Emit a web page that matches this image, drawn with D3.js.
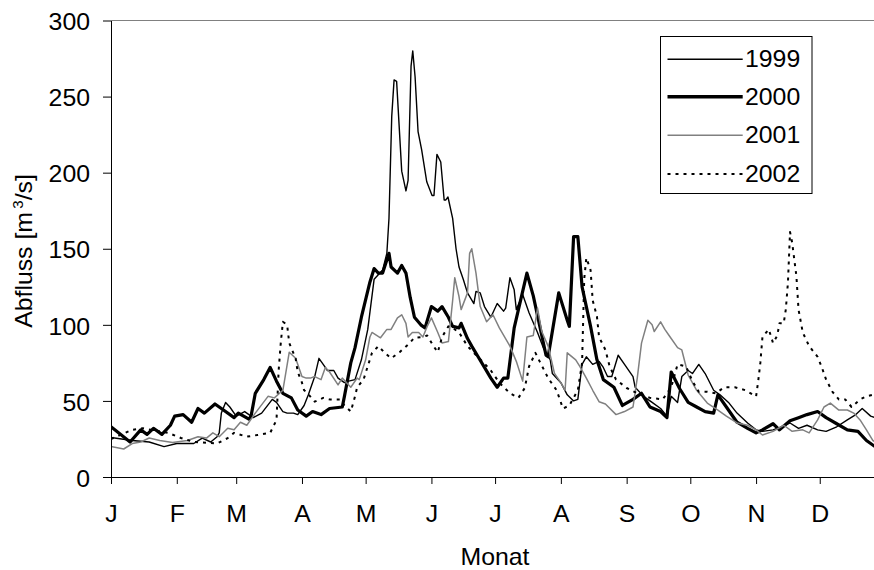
<!DOCTYPE html>
<html><head><meta charset="utf-8">
<script src="https://cdn.jsdelivr.net/npm/d3@7"></script>
<style>
body{margin:0;background:#fff}
text{font-family:"Liberation Sans",Arial,sans-serif;fill:#000}
</style>
</head><body>
<svg id="c" width="874" height="570"></svg>
<script>
const monthStarts = [0,31,59,90,120,151,181,212,243,273,304,334];
const monthLabels = ["J","F","M","A","M","J","J","A","S","O","N","D"];
const yTicks = [0,50,100,150,200,250,300];
const years = ["1999","2000","2001","2002"];

const s1999 = [[0,26],[10,24],[18,23],[25,20],[31,22],[39,22],[43,25.6],[47,23],[50,26.5],[51,29],[52,42],[54,49],[56,46],[59,40],[63,43],[67,39],[71,42],[76,51],[78,49],[81,43],[83,42],[86,42],[88,41],[91,47],[93,54],[96,66],[98,78],[100,74],[102,70],[105,70],[107,65],[110,62],[112,63],[115,64],[118,77],[121,97],[124,130],[128,136],[130,147],[131,170],[132.3,237],[133.4,261],[134.6,260],[137,201],[139,188],[140,195],[141.4,270],[142.2,280],[143.3,263],[144.7,227],[146.4,215],[148.8,194],[151.3,185],[152.2,185],[153.6,212],[155.4,207],[157,182],[157.7,182],[158.8,184],[161,170],[162.6,150],[164,138],[166,130],[168,121],[171,114],[172,122],[174,121],[176,112],[179,105],[182,114],[185,109],[186,111],[188,131],[190,123],[191,110],[194,120],[197,108],[201,95],[204,84],[207,77],[208,68],[212,62],[215,54],[218,50],[220,51],[222,74],[224,79],[227,74],[230,76],[232,72],[234,66],[236,66],[239,80],[242,74],[246,66],[247,59],[251,53],[255,49],[259,45],[262,40],[264,53],[267,49],[269,66],[272,70],[274,68],[277,74],[280,68],[284,57],[287,54],[291,49],[295,42],[300,35.5],[304,31],[307,30],[312,31],[316,33],[320,35.5],[324,32],[328,34],[333,31],[337,30],[342,33],[347,37.5],[351,41],[354,45],[358,40],[362,38]];

const s2000 = [[0,33],[9,23],[14,31],[17,28],[20,32],[24,28],[28,34],[30,40],[34,41],[38,36],[41,45],[44,42],[49,48],[53,44],[58,39],[60,42],[65,38],[66,40],[68,55],[72,64],[75,72],[78,63],[81,55],[85,52],[88,44],[92,40],[95,43],[99,41],[103,45],[109,46],[110,53],[113,75],[115,85],[118,105],[122,128],[124,137],[126,134],[128,134],[131,147],[132,138],[135,134],[137,139],[139,134],[141,118],[143,105],[146,100],[148,98],[151,112],[154,109],[156,112],[159,105],[161,99],[164,98],[165,101],[168,91],[170,86],[173,79],[176,72],[179,65],[182,59],[185,65],[187,65],[190,98],[196,134],[199,119],[205,80],[206,79],[211,121],[215,103],[216,99],[218,158],[220,158],[222,125],[226,99],[229,77],[232,64],[237,59],[241,47],[246,51],[250,55],[254,46],[259,43],[262,39],[264,69],[268,58],[272,49],[276,46],[280,43],[284,42],[286,54],[290,46],[295,36],[300,32],[304,29],[307,31],[312,35],[315,31],[320,37],[324,39],[328,41],[333,43],[337,39],[342,35],[347,31],[352,30],[356,24],[360,20],[362,19]];

const s2001 = [[0,20],[6,18.4],[10,22],[14,23],[18,25.6],[23,24],[29,22.6],[36,24],[41,26.5],[45,25.6],[48,29],[51,26.5],[55,32],[58,31],[61,36],[64,34],[68,42],[74,53],[77,52],[81,57],[84,82],[87,78],[90,66],[92,65],[94,65],[96,66],[99,64],[101,72],[103,69],[107,60.5],[109,65],[113,59],[116,65],[117,64],[120,77],[122,92],[123,95],[127,91.5],[130,97],[132,97],[135,104.6],[137,106.6],[139,101],[140,92],[142,95],[145,95],[147,92],[149,99],[151,104.6],[154,95],[156,88],[159,89],[161,116],[162,131],[164,118.6],[165,110],[168,121],[169,147],[170,150],[172,134],[174,112],[177,102],[180,106.6],[183,98],[188,86],[191,76],[194,63],[196,92],[199,93],[201,111],[203,95.6],[206,86],[209,68],[212,62],[214,57],[215,81.6],[219,77],[221,72.6],[224,65],[227,57],[230,49.5],[233,48],[238,41],[242,43],[246,46],[248,65],[250,88],[253,103],[255,100],[256,95.6],[259,102],[261,97],[263,93],[267,85],[269,83.5],[272,67],[276,57],[281,48.6],[286,44],[290,40],[295,35.5],[300,34],[304,31],[307,27.6],[312,30],[317,34],[321,30],[326,31],[329,29],[333,37.5],[336,46],[339,48.6],[343,44],[347,44],[350,42],[353,37.5],[356,31],[359,24],[362,22]];

const s2002 = [[0,25],[10,31],[15,32],[27,29],[33,25.6],[39,23],[50,22],[55,25.6],[58,29],[64,26.5],[69,27.6],[75,29],[78,37.5],[79,70],[80,88],[81,102],[83,100],[84,88],[87,78],[88,69],[90,62],[91,57],[92,56],[96,49.5],[100,52],[103,51],[108,51],[110,47],[113,43],[115,53],[116,59],[119,64],[123,81.6],[126,86],[129,81.6],[132,78],[136,82],[140,87],[143,91.5],[147,92],[149,93],[152,86],[154,82],[156,92],[159,99],[161,98],[164,95],[168,86],[171,81.6],[175,76],[179,70],[183,62],[188,55],[192,52],[195,58.5],[197,72.6],[200,81.6],[202,76],[206,65],[210,57],[213,45],[216,47],[220,57],[222,75],[223,130],[224,144],[226,136],[227,116],[229,105.5],[230,92],[233,83.5],[235,72.6],[238,64],[243,58.5],[248,55],[254,52],[260,51],[264,59],[267,74],[271,72.6],[274,63],[277,56],[281,56],[285,55],[289,59],[294,59],[299,57],[304,53],[305,63],[306,75],[307,92],[310,97],[312,88],[314,93],[315,101],[317,101],[318,110],[319,127.6],[320,161],[321,154],[323,132],[324,110],[326,95],[329,86],[333,79],[335,72],[337,64],[340,56],[343,51],[346,51],[349,46],[353,51],[356,53],[359,54],[362,55]];

const seriesData = [s1999, s2000, s2001, s2002];
const styles = [
  {stroke:"#000", width:1.4, dash:null},
  {stroke:"#000", width:3.2, dash:null},
  {stroke:"#808080", width:1.5, dash:null},
  {stroke:"#000", width:2, dash:"3,5"}
];

const FS = 23, SX = 1.08;
const svg = d3.select("#c");
const x = d3.scaleLinear().domain([0,365]).range([111, 111+365*2.122]);
const y = d3.scaleLinear().domain([0,300]).range([477, 20.5]);

svg.append("defs").append("clipPath").attr("id","pc")
  .append("rect").attr("x",111).attr("y",15).attr("width",763).attr("height",463);

// top border of plot area
svg.append("line").attr("x1",111).attr("x2",874).attr("y1",y(300)).attr("y2",y(300))
  .attr("stroke","#808080").attr("stroke-width",1);

// lines
const line = d3.line().x(d=>x(d[0])).y(d=>y(d[1]));
const lg = svg.append("g").attr("clip-path","url(#pc)");
seriesData.forEach((s,i)=>{
  lg.append("path").attr("d",line(s)).attr("fill","none")
    .attr("stroke",styles[i].stroke).attr("stroke-width",styles[i].width)
    .attr("stroke-linejoin","round")
    .attr("stroke-dasharray",styles[i].dash);
});

// y axis
const ya = svg.append("g").attr("transform","translate(111,0)")
  .call(d3.axisLeft(y).tickValues(yTicks).tickSize(8).tickSizeOuter(0).tickFormat(d3.format("d")));
ya.select(".domain").attr("stroke","#000");
ya.selectAll(".tick line").attr("stroke","#000");
ya.selectAll(".tick text").attr("font-size",FS).attr("font-family","Liberation Sans, Arial, sans-serif")
  .attr("x",-21/SX).attr("dy","0.4em").attr("transform",`scale(${SX},1)`).attr("fill","#000");

// x axis
const xa = svg.append("g").attr("transform","translate(0,477)")
  .call(d3.axisBottom(x).tickValues(monthStarts).tickSize(7).tickSizeOuter(0).tickFormat((d,i)=>monthLabels[i]));
xa.select(".domain").attr("stroke","#000");
xa.selectAll(".tick line").attr("stroke","#000");
xa.selectAll(".tick text").attr("font-size",FS).attr("font-family","Liberation Sans, Arial, sans-serif")
  .attr("y",45.5).attr("dy",0).attr("transform",`scale(${SX},1)`).attr("fill","#000");

// axis titles
svg.append("text").attr("transform",`translate(495,565) scale(${SX},1)`)
  .attr("text-anchor","middle").attr("font-size",FS).text("Monat");
const yt = svg.append("text").attr("transform",`translate(32,251) rotate(-90) scale(${SX},1)`)
  .attr("text-anchor","middle").attr("font-size",FS);
yt.append("tspan").text("Abfluss [m");
yt.append("tspan").attr("font-size",14).attr("dx",3).attr("dy",-9).text("3");
yt.append("tspan").attr("dy",9).text("/s]");

// legend
const leg = svg.append("g");
leg.append("rect").attr("x",660.5).attr("y",36.5).attr("width",151.5).attr("height",157)
  .attr("fill","#fff").attr("stroke","#000").attr("stroke-width",1);
const rowY = [59.3, 96.7, 135.3, 174];
years.forEach((yr,i)=>{
  leg.append("line").attr("x1",667.5).attr("x2",742.7).attr("y1",rowY[i]).attr("y2",rowY[i])
    .attr("stroke",styles[i].stroke).attr("stroke-width",i===1?3.6:styles[i].width)
    .attr("stroke-dasharray",styles[i].dash);
  leg.append("text").attr("transform",`translate(745,${rowY[i]+7.8}) scale(${SX},1)`)
    .attr("font-size",FS).text(yr);
});
</script>
</body></html>
